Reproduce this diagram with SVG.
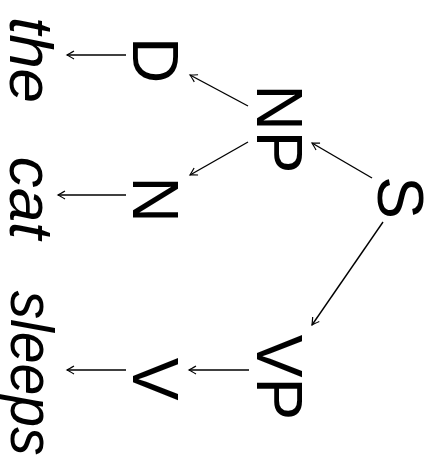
<svg xmlns="http://www.w3.org/2000/svg" width="436" height="459" viewBox="0 0 436 459">
<style>
.n{font-family:"Liberation Sans",Arial,sans-serif;font-size:64px;fill:#000;text-anchor:middle}
.w{font-family:"Liberation Sans",Arial,sans-serif;font-size:62px;font-style:italic;fill:#000;text-anchor:middle}
.e{stroke:#000;stroke-width:1.4;fill:none;marker-end:url(#a)}
</style>
<defs>
<marker id="a" markerUnits="userSpaceOnUse" markerWidth="12" markerHeight="12" viewBox="-10 -6 12 12" refX="0" refY="0" orient="auto">
<path d="M-7,-4 Q-2,-1 0,0 Q-2,1 -7,4" fill="none" stroke="#000" stroke-width="1.2"/>
</marker>
</defs>
<rect width="436" height="459" fill="#fff"/>
<g id="connectors">
<line class="e" x1="372" y1="178" x2="312" y2="143"/>
<line class="e" x1="383" y1="222" x2="312" y2="325"/>
<line class="e" x1="248" y1="106" x2="190" y2="75"/>
<line class="e" x1="248" y1="142" x2="190" y2="175"/>
<line class="e" x1="249" y1="370" x2="189" y2="370"/>
<line class="e" x1="126" y1="55" x2="67" y2="55"/>
<line class="e" x1="126" y1="195" x2="58" y2="195"/>
<line class="e" x1="126" y1="370" x2="67" y2="370"/>
</g>
<g id="S"><text class="n" transform="translate(378,197.5) rotate(90)">S</text></g>
<g id="NP"><text class="n" transform="translate(257,129) rotate(90)">NP</text></g>
<g id="VP"><text class="n" transform="translate(257,377.5) rotate(90)">VP</text></g>
<g id="D"><text class="n" transform="translate(133,60) rotate(90)">D</text></g>
<g id="N"><text class="n" transform="translate(133,199.5) rotate(90)">N</text></g>
<g id="V"><text class="n" transform="translate(133,379) rotate(90)">V</text></g>
<g id="the"><text class="w" transform="translate(10,60) rotate(90)">the</text></g>
<g id="cat"><text class="w" transform="translate(10,198) rotate(90)">cat</text></g>
<g id="sleeps"><text class="w" transform="translate(11,373) rotate(90)" textLength="165" lengthAdjust="spacingAndGlyphs">sleeps</text></g>
</svg>
